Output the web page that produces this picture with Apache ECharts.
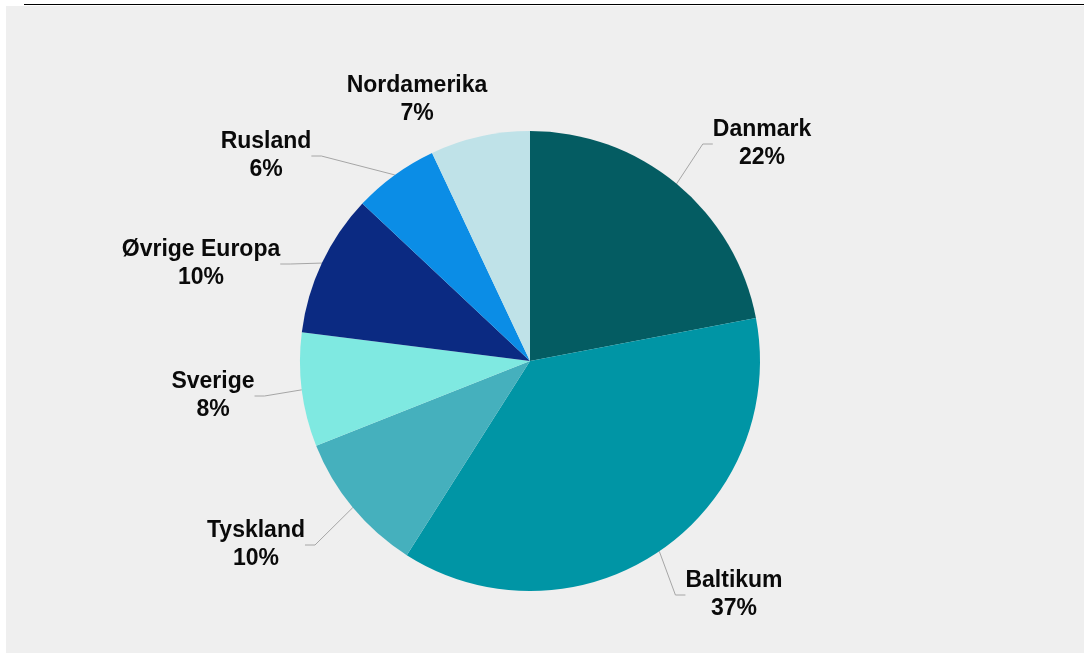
<!DOCTYPE html>
<html>
<head>
<meta charset="utf-8">
<script src="https://cdn.jsdelivr.net/npm/echarts@6/dist/echarts.min.js"></script>
<style>
  html, body { margin: 0; padding: 0; background: #ffffff; width: 1084px; height: 653px; overflow: hidden; }
  #rule { position: absolute; left: 24px; top: 4px; width: 1060px; height: 1px; background: #000000; }
  #chart { position: absolute; left: 6px; top: 6px; width: 1078px; height: 647px; background: #efefef; }
</style>
</head>
<body>
<div id="rule"></div>
<div id="chart"></div>
<script>
// Share of sales by region, in percent (clockwise from 12 o'clock)
const regions = ['Danmark', 'Baltikum', 'Tyskland', 'Sverige', 'Øvrige Europa', 'Rusland', 'Nordamerika'];
const shares = [22, 37, 10, 8, 10, 6, 7];

// Slice colours, same order as the regions
const sliceColors = ['#045c62', '#0095a5', '#45b0bd', '#7fe9e1', '#0b2a82', '#0b8de6', '#bfe2e8'];

// Centre of each two-line label block, in chart pixels
const labelSpots = {
  'Danmark': [756, 138],
  'Baltikum': [728, 589],
  'Tyskland': [250, 539],
  'Sverige': [207, 390],
  'Øvrige Europa': [195, 258],
  'Rusland': [260, 150],
  'Nordamerika': [411, 94]
};

const chart = echarts.init(document.getElementById('chart'), null, { renderer: 'canvas' });

const data = regions.map((name, i) => ({
  name: name,
  value: shares[i],
  itemStyle: { color: sliceColors[i] },
  labelLine: { show: name !== 'Nordamerika' }
}));

chart.setOption({
  animation: false,
  backgroundColor: '#efefef',
  series: [{
    type: 'pie',
    center: [524, 355],
    radius: [0, 230],
    startAngle: 90,
    clockwise: true,
    avoidLabelOverlap: false,
    data: data,
    label: {
      show: true,
      position: 'outside',
      formatter: '{b}\n{c}%',
      fontFamily: '"Liberation Sans", Arial, sans-serif',
      fontWeight: 'bold',
      fontSize: 23,
      lineHeight: 28,
      color: '#0a0a0a',
      align: 'center'
    },
    labelLine: {
      show: true,
      length: 20,
      length2: 10,
      lineStyle: { color: '#a6a6a6', width: 1 }
    },
    labelLayout: function (params) {
      const spot = labelSpots[regions[params.dataIndex]];
      return { x: spot[0], y: spot[1], align: 'center', verticalAlign: 'middle' };
    },
    emphasis: { disabled: true }
  }]
});
</script>
</body>
</html>
